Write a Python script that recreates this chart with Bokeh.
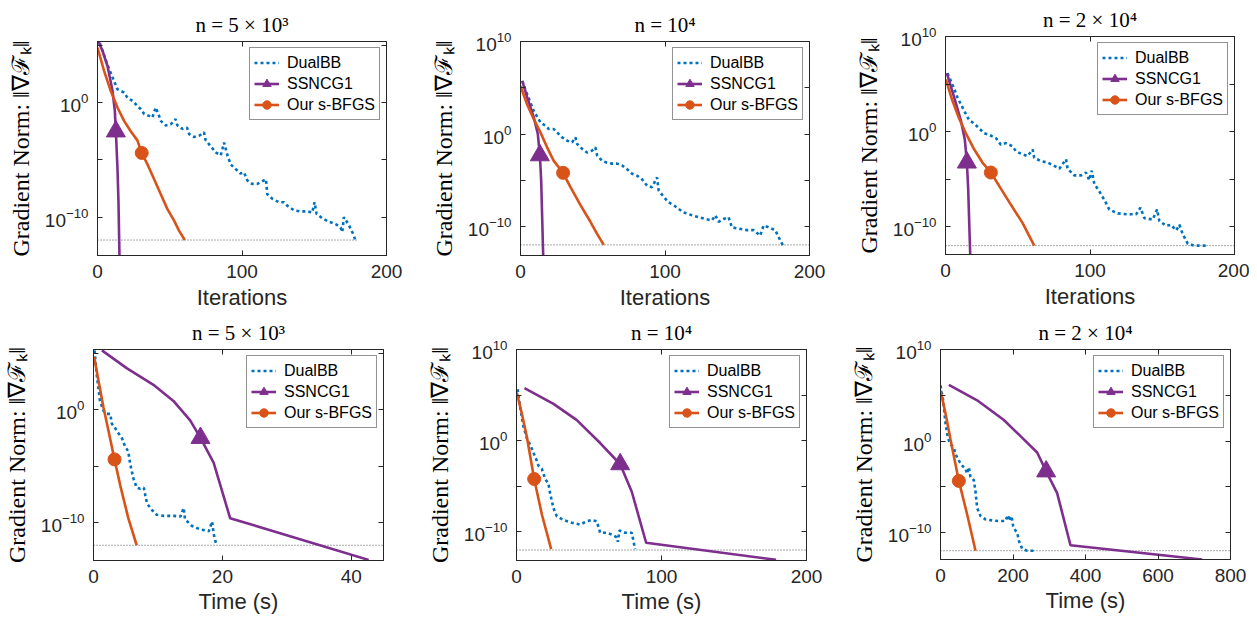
import numpy as np
from bokeh.plotting import figure
from bokeh.models import FixedTicker, LogAxis, LinearAxis, Legend, LegendItem, Range1d
from bokeh.layouts import row, column
from bokeh.embed import file_html
from bokeh.resources import INLINE

# ---------------------------------------------------------------- text
series_labels = ["DualBB", "SSNCG1", "Our s-BFGS"]
panel_titles = ["n = 5 × 10³", "n = 10⁴", "n = 2 × 10⁴"]
x_labels = ["Iterations", "Time (s)"]
y_label = "Gradient Norm: ‖∇ℱₖ‖"
y_tick_exponents = [-10, -5, 0, 5, 10]
y_labelled_exponents = [-10, 0, 10]
tol = 1e-12  # stopping tolerance (dotted line)

# ------------------------------------------------- data (log10 of ||grad F_k||)
# --- iterations, n = 5e3
it1_dbb_x = [1.6, 6.9, 10.4, 13.8, 18.4, 20.7, 24.2, 27.6, 30.0, 32.3, 35.7, 38.0, 40.3, 42.6, 43.8,
             47.2, 50.7, 54.0, 55.3, 58.8, 62.0, 63.4, 66.8, 70.3, 73.7, 74.9, 78.3, 81.8, 85.3, 87.6,
             89.9, 92.2, 95.6, 99.0, 101.4, 103.7, 107.0, 110.6, 112.9, 116.6, 117.5, 121.0, 125.6, 129.0,
             131.3, 135.9, 140.5, 145.2, 148.6, 150.2, 151.6, 155.5, 160.1, 164.7, 168.2, 169.4, 170.5,
             174.0, 177.4, 178.6]
it1_dbb_lg = [5.2, 3.3, 2.2, 1.16, 0.87, 0.43, 0.14, -0.29, -0.58, -1.0, -1.16, -1.3, -0.43, -1.16, -1.6,
              -2.0, -1.9, -1.45, -2.0, -2.3, -2.2, -2.75, -3.0, -2.9, -2.6, -3.3, -3.8, -4.35, -4.6, -3.5,
              -4.6, -5.4, -5.8, -6.2, -6.1, -6.8, -7.1, -7.1, -6.95, -6.7, -8.0, -8.4, -8.7, -8.7,
              -9.0, -9.4, -9.5, -9.5, -9.6, -8.7, -9.7, -10.1, -10.4, -10.6, -10.9, -11.3, -10.0,
              -10.7, -11.6, -12.1]
it1_ss_x = [0.5, 3.5, 6.9, 8.8, 10.4, 12.0, 12.7, 13.8, 14.5, 15.2, 15.4]
it1_ss_lg = [5.36, 4.5, 3.19, 2.03, 1.01, -0.72, -2.52, -5.65, -8.55, -13.36, -14.0]
it1_ss_mark = 6
it1_bf_x = [0.0, 4.6, 9.2, 13.8, 18.4, 23.0, 27.6, 30.6, 34.6, 39.2, 43.8, 48.4, 53.0, 56.5, 60.4]
it1_bf_lg = [4.8, 2.75, 1.0, -0.43, -1.6, -2.5, -3.3, -4.4, -5.4, -6.7, -8.0, -9.3, -10.3, -11.2, -12.0]
it1_bf_mark = 7

# --- iterations, n = 1e4
it2_dbb_x = [1.2, 4.6, 9.2, 13.8, 17.3, 19.6, 23.0, 25.3, 28.8, 32.3, 35.7, 38.0, 39.2, 42.6, 46.0,
             49.5, 51.8, 53.0, 56.5, 59.9, 63.4, 66.8, 70.3, 73.7, 77.2, 80.6, 84.1, 87.6, 91.0, 94.5,
             95.6, 99.1, 102.5, 106.0, 109.4, 112.9, 115.2, 118.7, 123.3, 127.9, 132.5, 134.8, 137.1,
             140.6, 144.0, 146.3, 150.9, 156.7, 161.3, 165.9, 168.2, 171.7, 176.3, 179.7, 181.6]
it2_dbb_lg = [5.75, 4.3, 2.5, 1.26, 0.9, 0.54, 0.54, 0.18, -0.36, -0.72, -0.9, -0.36, -1.08, -1.6, -2.0,
              -1.8, -1.44, -2.3, -2.9, -3.1, -3.2, -3.2, -3.4, -3.8, -4.3, -4.5, -4.9, -5.6, -5.75, -4.7,
              -6.1, -6.8, -7.4, -7.7, -8.1, -8.5, -8.6, -8.8, -9.0, -9.2, -9.35, -8.8, -9.5,
              -9.2, -9.0, -10.1, -10.25, -10.4, -10.4, -11.0, -9.9, -10.1, -10.4, -11.5, -12.05]
it2_ss_x = [1.2, 4.6, 9.2, 12.0, 13.4, 14.3, 15.0, 15.7, 16.0]
it2_ss_lg = [5.75, 4.0, 1.8, 0.0, -2.3, -5.0, -9.0, -13.2, -14.0]
it2_ss_mark = 4
it2_bf_x = [0.0, 4.6, 9.2, 13.8, 18.4, 23.0, 29.5, 34.6, 41.5, 48.4, 53.0, 57.6]
it2_bf_lg = [5.2, 3.2, 1.6, 0.18, -1.44, -2.9, -4.2, -5.75, -7.7, -9.5, -10.8, -12.0]
it2_bf_mark = 6

# --- iterations, n = 2e4
it3_dbb_x = [1.4, 4.8, 8.3, 12.9, 16.4, 19.9, 23.3, 26.8, 30.3, 34.9, 38.3, 41.8, 46.4, 48.7, 53.3,
             56.8, 60.3, 61.4, 66.0, 70.7, 75.3, 78.8, 83.4, 84.5, 89.1, 93.8, 97.2, 99.5, 101.2, 103.0,
             106.5, 110.0, 113.4, 119.2, 126.1, 131.9, 134.9, 137.6, 143.4, 146.4, 148.0, 152.7, 156.1,
             159.6, 161.9, 164.2, 167.7, 172.3, 180.4]
it3_dbb_lg = [6.16, 4.97, 3.6, 2.2, 1.2, 0.86, 0.34, -0.17, -0.34, -0.68, -1.37, -1.2, -1.54, -2.05, -2.4,
              -2.57, -1.88, -2.74, -3.1, -3.25, -3.6, -3.9, -2.9, -3.9, -4.6, -4.6, -4.3, -5.1, -4.1, -5.5,
              -6.3, -7.2, -8.2, -8.6, -8.7, -8.7, -8.0, -9.1, -9.25, -8.2, -9.4, -9.9, -9.8,
              -10.4, -9.8, -10.8, -11.8, -12.0, -12.0]
it3_ss_x = [0.9, 6.0, 10.6, 13.4, 14.8, 15.7, 16.4, 17.1, 17.4]
it3_ss_lg = [6.16, 3.6, 1.2, -0.86, -3.25, -6.0, -9.5, -12.93, -13.5]
it3_ss_mark = 4
it3_bf_x = [0.2, 4.8, 9.5, 14.1, 19.9, 25.6, 31.4, 38.3, 45.3, 53.3, 61.4]
it3_bf_lg = [5.5, 3.25, 1.37, -0.17, -1.88, -3.25, -4.3, -6.0, -7.7, -9.6, -12.0]
it3_bf_mark = 6

# --- time, n = 5e3
tm1_dbb_x = [0.16, 0.5, 1.0, 1.55, 2.07, 2.6, 2.85, 3.4, 3.9, 4.4, 4.9, 5.4, 5.7, 6.2, 6.7,
             7.25, 7.8, 8.3, 9.1, 9.8, 10.9, 12.4, 13.5, 14.0, 14.2, 15.3, 16.6, 17.9, 18.4, 18.65, 19.1]
tm1_dbb_lg = [5.25, 3.1, 0.78, -0.09, -0.37, -0.37, -1.24, -1.67, -2.1, -2.5, -3.26, -3.7, -4.84, -6.1, -6.9,
              -7.0, -6.9, -8.3, -8.9, -9.3, -9.4, -9.4, -9.45, -8.7, -9.7, -10.3, -10.6, -10.75, -9.9, -11.0, -12.05]
tm1_ss_x = [1.3, 5.2, 9.3, 12.4, 15.0, 16.6, 18.65, 21.2, 42.7]
tm1_ss_lg = [5.25, 3.66, 2.2, 0.78, -0.95, -2.5, -4.7, -9.6, -13.3]
tm1_ss_mark = 5
tm1_bf_x = [0.1, 0.8, 1.55, 2.3, 3.26, 4.15, 5.4, 6.7]
tm1_bf_lg = [4.67, 2.5, 0.2, -1.8, -4.4, -6.7, -9.6, -12.0]
tm1_bf_mark = 4

# --- time, n = 1e4
tm2_dbb_x = [0.7, 2.5, 4.8, 7.1, 9.4, 11.7, 13.6, 15.2, 17.5, 19.8, 22.0, 23.2, 25.5, 27.8, 32.4,
             38.2, 43.9, 48.5, 52.0, 55.4, 57.7, 62.3, 65.7, 69.2, 69.9, 71.0, 74.9, 79.5, 81.8]
tm2_dbb_lg = [5.66, 3.7, 1.54, 0.29, -0.43, -1.33, -2.04, -2.76, -3.1, -4.2, -4.7, -5.8, -7.4, -8.3, -8.7,
              -9.0, -9.2, -8.85, -8.7, -8.85, -10.1, -10.1, -10.3, -10.6, -11.1, -9.85, -10.1, -10.1, -11.9]
tm2_ss_x = [5.5, 25.5, 41.6, 57.7, 71.5, 79.5, 89.4, 179.0]
tm2_ss_lg = [5.77, 4.05, 2.26, -0.25, -2.58, -5.6, -11.2, -13.08]
tm2_ss_mark = 4
tm2_bf_x = [0.2, 3.7, 7.1, 12.2, 17.5, 23.9]
tm2_bf_lg = [5.3, 2.97, 0.47, -4.2, -8.1, -11.9]
tm2_bf_mark = 3

# --- time, n = 2e4
tm3_dbb_x = [0.0, 7.4, 13.8, 20.2, 27.6, 36.8, 41.4, 50.6, 59.8, 69.0, 73.6, 78.2, 82.8, 87.4, 92.0,
             96.6, 101.1, 110.3, 124.1, 142.5, 160.9, 179.3, 185.7, 191.3, 195.9, 200.5, 206.9, 211.5,
             216.1, 225.3, 239.1, 262.0]
tm3_dbb_lg = [6.07, 4.46, 1.96, 0.36, -0.36, -0.71, -1.43, -2.14, -2.68, -3.04, -3.57, -2.86, -3.93, -4.1, -4.29,
              -5.54, -7.32, -8.2, -8.57, -8.68, -8.75, -8.75, -8.1, -8.75, -8.2, -9.3, -9.8, -10.0,
              -10.9, -11.8, -12.0, -12.0]
tm3_ss_x = [23.0, 101.1, 174.7, 220.7, 266.7, 291.5, 321.8, 358.6, 721.8]
tm3_ss_lg = [6.14, 4.46, 2.3, 0.54, -1.25, -3.32, -5.7, -11.4, -12.96]
tm3_ss_mark = 5
tm3_bf_x = [0.0, 13.8, 27.6, 50.6, 73.6, 96.6]
tm3_bf_lg = [5.54, 3.04, 0.18, -4.36, -8.04, -12.0]
tm3_bf_mark = 3

# ------------------------------------------------------------ styling
COLORS = ["#0072BD", "#7E2F8E", "#D95319"]
AX = "#262626"
SANS = "Liberation Sans"
SERIF = "Liberation Serif"

# geom = (width, height, border_left, border_right, border_top, border_bottom)
panels = [
    dict(title=panel_titles[0], xlabel=x_labels[0], xr=(0, 200), xticks=[0, 100, 200], ylog=(-13.35, 5.33),
         tol_x=[0, 180], geom=(420, 313, 97, 34, 41, 58), std=(9, 4),
         series=[(it1_dbb_x, it1_dbb_lg, None), (it1_ss_x, it1_ss_lg, it1_ss_mark), (it1_bf_x, it1_bf_lg, it1_bf_mark)]),
    dict(title=panel_titles[1], xlabel=x_labels[0], xr=(0, 200), xticks=[0, 100, 200], ylog=(-13.15, 10.02),
         tol_x=[0, 200], geom=(424, 313, 100, 35, 41, 58), std=(9, 4),
         series=[(it2_dbb_x, it2_dbb_lg, None), (it2_ss_x, it2_ss_lg, it2_ss_mark), (it2_bf_x, it2_bf_lg, it2_bf_mark)]),
    dict(title=panel_titles[2], xlabel=x_labels[0], xr=(0, 200), xticks=[0, 100, 200], ylog=(-12.93, 10.02),
         tol_x=[0, 200], geom=(405, 313, 101, 15, 32, 59), std=(9, 4),
         series=[(it3_dbb_x, it3_dbb_lg, None), (it3_ss_x, it3_ss_lg, it3_ss_mark), (it3_bf_x, it3_bf_lg, it3_bf_mark)]),
    dict(title=panel_titles[0], xlabel=x_labels[1], xr=(0, 45), xticks=[0, 20, 40], ylog=(-13.35, 5.33),
         tol_x=[0, 45], geom=(420, 310, 93, 37, 31, 63), std=(9, 3),
         series=[(tm1_dbb_x, tm1_dbb_lg, None), (tm1_ss_x, tm1_ss_lg, tm1_ss_mark), (tm1_bf_x, tm1_bf_lg, tm1_bf_mark)]),
    dict(title=panel_titles[1], xlabel=x_labels[1], xr=(0, 200), xticks=[0, 100, 200], ylog=(-13.15, 10.02),
         tol_x=[0, 200], geom=(424, 310, 96, 38, 30, 63), std=(9, 3),
         series=[(tm2_dbb_x, tm2_dbb_lg, None), (tm2_ss_x, tm2_ss_lg, tm2_ss_mark), (tm2_bf_x, tm2_bf_lg, tm2_bf_mark)]),
    dict(title=panel_titles[2], xlabel=x_labels[1], xr=(0, 800), xticks=[0, 200, 400, 600, 800], ylog=(-12.96, 10.02),
         tol_x=[0, 800], geom=(405, 310, 96, 19, 29, 64), std=(9, 3),
         series=[(tm3_dbb_x, tm3_dbb_lg, None), (tm3_ss_x, tm3_ss_lg, tm3_ss_mark), (tm3_bf_x, tm3_bf_lg, tm3_bf_mark)]),
]


def style_axis(ax):
    ax.major_tick_in = 5
    ax.major_tick_out = 0
    ax.minor_tick_in = 5
    ax.minor_tick_out = 0
    ax.axis_line_color = AX
    ax.major_tick_line_color = AX
    ax.minor_tick_line_color = AX
    ax.major_label_text_font = SANS
    ax.major_label_text_font_size = "19px"
    ax.major_label_text_color = AX


def make_panel(cfg):
    W, H, lb, rb, tb, bb = cfg["geom"]
    lo, hi = cfg["ylog"]
    p = figure(width=W, height=H, x_range=Range1d(*cfg["xr"]), y_range=Range1d(10.0 ** lo, 10.0 ** hi),
               y_axis_type="log", output_backend="svg", toolbar_location=None,
               min_border_left=lb, min_border_right=rb, min_border_top=tb, min_border_bottom=bb,
               background_fill_color="white", border_fill_color="white",
               outline_line_color=AX, outline_line_width=1, title=cfg["title"])
    p.frame_align = False
    p.title.text_font = SERIF
    p.title.text_font_size = "21px"
    p.title.text_font_style = "normal"
    p.title.text_color = "black"
    p.title.align = "center"
    p.xgrid.visible = False
    p.ygrid.visible = False

    xa = p.xaxis[0]
    ya = p.yaxis[0]
    style_axis(xa)
    style_axis(ya)
    xa.ticker = FixedTicker(ticks=cfg["xticks"], minor_ticks=[])
    ya.ticker = FixedTicker(ticks=[10.0 ** e for e in y_labelled_exponents],
                            minor_ticks=[10.0 ** e for e in y_tick_exponents if e not in y_labelled_exponents])
    xa.major_label_standoff = cfg["std"][0]
    ya.major_label_standoff = 9
    xa.axis_label = cfg["xlabel"]
    xa.axis_label_text_font = SANS
    xa.axis_label_text_font_size = "22px"
    xa.axis_label_text_font_style = "normal"
    xa.axis_label_text_color = AX
    xa.axis_label_standoff = cfg["std"][1]
    ya.axis_label = y_label
    ya.axis_label_text_font = SERIF
    ya.axis_label_text_font_size = "24px"
    ya.axis_label_text_font_style = "normal"
    ya.axis_label_text_color = "black"
    ya.axis_label_standoff = 8

    top = LinearAxis(ticker=FixedTicker(ticks=[], minor_ticks=cfg["xticks"]))
    right = LogAxis(ticker=FixedTicker(ticks=[], minor_ticks=[10.0 ** e for e in y_tick_exponents]))
    for ax in (top, right):
        style_axis(ax)
        ax.major_label_standoff = 0
    p.add_layout(top, "above")
    p.add_layout(right, "right")

    # stopping tolerance
    p.line(cfg["tol_x"], [tol, tol], line_color="#505050", line_width=1, line_dash="1 2")

    (dx, dl, _), (sx, sl, sm), (bx, bl, bm) = cfg["series"]
    r_d = p.line(dx, 10.0 ** np.array(dl), line_color=COLORS[0], line_width=2.6, line_dash="3 3")
    r_s = p.line(sx, 10.0 ** np.array(sl), line_color=COLORS[1], line_width=2.6)
    m_s = p.scatter([sx[sm]], [10.0 ** sl[sm]], marker="triangle", size=19,
                    fill_color=COLORS[1], line_color=COLORS[1])
    r_b = p.line(bx, 10.0 ** np.array(bl), line_color=COLORS[2], line_width=2.6)
    m_b = p.scatter([bx[bm]], [10.0 ** bl[bm]], marker="circle", size=13,
                    fill_color=COLORS[2], line_color=COLORS[2])

    leg = Legend(items=[LegendItem(label=series_labels[0], renderers=[r_d]),
                        LegendItem(label=series_labels[1], renderers=[r_s, m_s]),
                        LegendItem(label=series_labels[2], renderers=[r_b, m_b])],
                 location="top_right", margin=6, padding=4, spacing=0,
                 label_height=21, glyph_height=21, glyph_width=25, label_standoff=8,
                 label_text_font=SANS, label_text_font_size="16px", label_text_color="black",
                 border_line_color=AX, border_line_width=1,
                 background_fill_color="white", background_fill_alpha=1.0)
    p.add_layout(leg)
    return p


figs = [make_panel(c) for c in panels]
layout = column(row(figs[0], figs[1], figs[2]), row(figs[3], figs[4], figs[5]))

open("out.html", "w").write(file_html(layout, INLINE))
